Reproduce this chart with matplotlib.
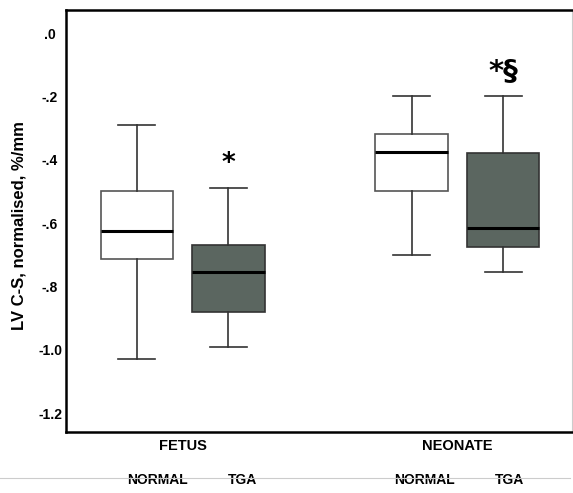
import matplotlib
matplotlib.use("Agg")
import matplotlib.pyplot as plt
from matplotlib.lines import Line2D

plt.rcParams['font.family'] = ['Liberation Sans', 'DejaVu Sans']

# data (box plot stats)
groups = ['FETUS', 'NEONATE']
sub_labels = ['NORMAL', 'TGA', 'NORMAL', 'TGA']
whislo = [-1.03, -0.99, -0.70, -0.755]
q1 = [-0.715, -0.88, -0.50, -0.675]
med = [-0.625, -0.755, -0.375, -0.615]
q3 = [-0.50, -0.67, -0.32, -0.38]
whishi = [-0.29, -0.49, -0.20, -0.20]
fills = ['white', '#5b6660', 'white', '#5b6660']
marks = ['', '*', '', '*§']

positions = [1, 2, 4, 5]
yticks = [0.0, -0.2, -0.4, -0.6, -0.8, -1.0, -1.2]
ytick_labels = ['.0', '-.2', '-.4', '-.6', '-.8', '-1.0', '-1.2']

fig = plt.figure(figsize=(5.73, 4.93), dpi=100)
ax = fig.add_axes([66/573, 1-432/493, (572-66)/573, (432-10)/493])

stats = []
for i in range(4):
    stats.append(dict(whislo=whislo[i], q1=q1[i], med=med[i], q3=q3[i],
                      whishi=whishi[i], fliers=[]))

bp = ax.bxp(stats, positions=positions, widths=0.79, patch_artist=True,
            showfliers=False,
            medianprops=dict(color='black', linewidth=2.2),
            whiskerprops=dict(color='#333333', linewidth=1.2),
            capprops=dict(color='#333333', linewidth=1.2),
            capwidths=0.4)
for patch, c in zip(bp['boxes'], fills):
    patch.set_facecolor(c)
    patch.set_edgecolor('#333333' if c != 'white' else '#555555')
    patch.set_linewidth(1.2)

# significance marks above whiskers
for p, hi, m in zip(positions, whishi, marks):
    if m:
        ax.text(p, hi + 0.035, m, ha='center', va='bottom',
                fontsize=19 if len(m) == 1 else 21, fontweight='bold',
                family=['DejaVu Sans'])

ax.set_xlim(0.228, 5.75)
ax.set_ylim(-1.26, 0.073)
ax.set_yticks(yticks)
ax.set_yticklabels(ytick_labels, fontsize=10, fontweight='bold', ha='center')
ax.tick_params(axis='y', length=0, pad=11.5)
ax.set_xticks([1.5, 4.5])
ax.set_xticklabels(groups, fontsize=10.5, fontweight='bold')
ax.tick_params(axis='x', length=0, pad=5)

for s in ['left', 'bottom', 'top']:
    ax.spines[s].set_linewidth(1.8)
    ax.spines[s].set_color('black')
ax.spines['right'].set_color('#cccccc')
ax.spines['right'].set_linewidth(0.8)

ax.set_ylabel('LV C-S, normalised, %/mm', fontsize=12, fontweight='bold')
ax.yaxis.set_label_coords(-0.078, 0.49)

# thin grey rule behind the group sub-labels
fig.add_artist(Line2D([0, 570/573], [1-478/493, 1-478/493],
                      color='#cccccc', linewidth=0.8, transform=fig.transFigure))
sub_x = [1.23, 2.15, 4.14, 5.07]
trans = matplotlib.transforms.blended_transform_factory(ax.transData, fig.transFigure)
for x, lab in zip(sub_x, sub_labels):
    ax.text(x, 1-480/493, lab, transform=trans, ha='center', va='center',
            fontsize=10, fontweight='bold', clip_on=False)

fig.savefig('out.png', dpi=100)
